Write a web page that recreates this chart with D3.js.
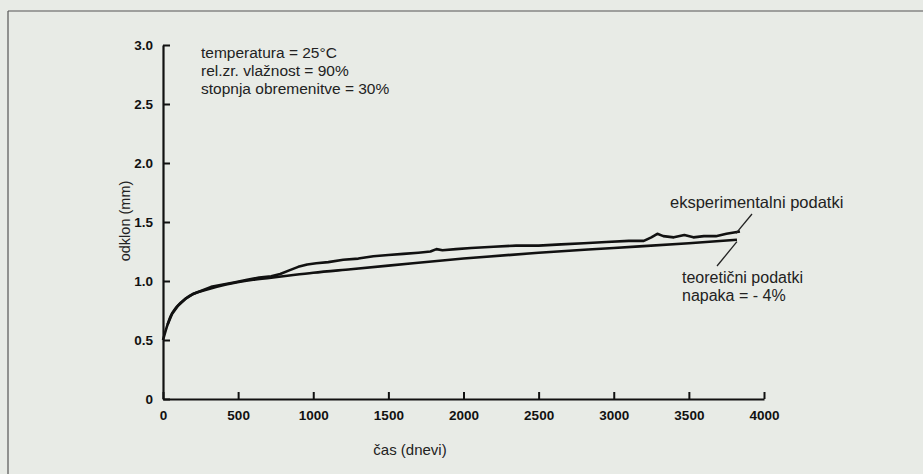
<!DOCTYPE html>
<html>
<head>
<meta charset="utf-8">
<script src="https://cdn.jsdelivr.net/npm/d3@7"></script>
<style>
	body { margin: 0; background: #e8ebe6; }
	svg { display: block; }
</style>
</head>
<body>
<svg id="chart" width="923" height="474"></svg>
<script>
// ****** Data
var xTicks = [0, 500, 1000, 1500, 2000, 2500, 3000, 3500, 4000];
var yTicks = [0, 0.5, 1.0, 1.5, 2.0, 2.5, 3.0];

// teoreticni podatki - smooth model curve [days, mm]
var theoryDays = [0, 25, 50, 90, 150, 200, 300, 420, 600, 800, 1000, 1250, 1500, 2000, 2500, 3000, 3500, 3820];
var theoryVals = [0.50, 0.61, 0.70, 0.78, 0.85, 0.89, 0.93, 0.97, 1.01, 1.04, 1.07, 1.10, 1.13, 1.19, 1.24, 1.28, 1.32, 1.35];

// eksperimentalni podatki - measured [days, mm]
var expDays = [30, 60, 100, 150, 200, 260, 320, 400, 480, 560, 640, 720, 780, 840, 900, 960, 1020, 1100,
	1200, 1300, 1400, 1500, 1600, 1700, 1780, 1820, 1860, 1950, 2050, 2200, 2350, 2500, 2650, 2800,
	2950, 3100, 3200, 3250, 3290, 3330, 3400, 3470, 3530, 3600, 3680, 3750, 3840];
var expVals = [0.63, 0.72, 0.79, 0.85, 0.89, 0.92, 0.95, 0.97, 0.99, 1.01, 1.03, 1.04, 1.06, 1.09, 1.12, 1.14, 1.15, 1.16,
	1.18, 1.19, 1.21, 1.22, 1.23, 1.24, 1.25, 1.27, 1.26, 1.27, 1.28, 1.29, 1.30, 1.30, 1.31, 1.32,
	1.33, 1.34, 1.34, 1.37, 1.40, 1.38, 1.37, 1.39, 1.37, 1.38, 1.38, 1.40, 1.42];

var conditions = ['temperatura = 25°C', 'rel.zr. vlažnost = 90%', 'stopnja obremenitve = 30%'];

// ****** Layout
var svg = d3.select('#chart');
var fontFam = '"Liberation Sans", Arial, sans-serif';

var x = d3.scaleLinear().domain([0, 4000]).range([163, 764]);
var y = d3.scaleLinear().domain([0, 3]).range([399, 45]);

// page frame from the scan
svg.append('line').attr('x1', 8).attr('x2', 923).attr('y1', 11).attr('y2', 11)
	.attr('stroke', '#555').attr('stroke-width', 1.2);
svg.append('line').attr('x1', 8).attr('x2', 8).attr('y1', 11).attr('y2', 474)
	.attr('stroke', '#555').attr('stroke-width', 1.2);

// ****** Axes
var xAxis = d3.axisBottom(x).tickValues(xTicks).tickSizeInner(-7).tickSizeOuter(0).tickPadding(11)
	.tickFormat(d3.format('d'));
var yAxis = d3.axisLeft(y).tickValues(yTicks).tickSizeInner(-7).tickSizeOuter(0).tickPadding(10)
	.tickFormat(function(d) { return d === 0 ? '0' : d.toFixed(1); });

var gx = svg.append('g').attr('transform', 'translate(0,' + y(0) + ')').call(xAxis);
var gy = svg.append('g').attr('transform', 'translate(' + x(0) + ',0)').call(yAxis);

[gx, gy].forEach(function(g) {
	g.select('.domain').attr('stroke', '#111').attr('stroke-width', 2.2);
	g.selectAll('.tick line').attr('stroke', '#111').attr('stroke-width', 2);
	g.selectAll('.tick text').attr('fill', '#111').style('font-family', fontFam)
		.style('font-size', '13.5px').style('font-weight', 'bold');
});

// axis titles
svg.append('text').attr('x', 410).attr('y', 455).attr('text-anchor', 'middle')
	.style('font-family', fontFam).style('font-size', '15px').attr('fill', '#222')
	.text('čas (dnevi)');
svg.append('text').attr('transform', 'translate(130,221) rotate(-90)').attr('text-anchor', 'middle')
	.style('font-family', fontFam).style('font-size', '14.5px').attr('fill', '#222')
	.text('odklon (mm)');

// ****** Curves
var line = d3.line().x(function(d) { return x(d[0]); }).y(function(d) { return y(d[1]); });

var theory = d3.zip(theoryDays, theoryVals);
var measured = d3.zip(expDays, expVals);

svg.append('path').datum(theory).attr('d', line.curve(d3.curveMonotoneX))
	.attr('fill', 'none').attr('stroke', '#111').attr('stroke-width', 2.6);
svg.append('path').datum(measured).attr('d', line.curve(d3.curveLinear))
	.attr('fill', 'none').attr('stroke', '#111').attr('stroke-width', 2.6)
	.attr('stroke-linejoin', 'round');

// ****** Annotations
svg.selectAll('text.cond').data(conditions).enter().append('text').attr('class', 'cond')
	.attr('x', 201).attr('y', function(d, i) { return 58 + i * 17.8; })
	.style('font-family', fontFam).style('font-size', '15.5px').attr('fill', '#222')
	.text(function(d) { return d; });

svg.append('text').attr('x', 670).attr('y', 208)
	.style('font-family', fontFam).style('font-size', '16.5px').attr('fill', '#222')
	.text('eksperimentalni podatki');
svg.append('line').attr('x1', 752).attr('y1', 214).attr('x2', x(3840) - 4).attr('y2', y(1.42) + 2)
	.attr('stroke', '#222').attr('stroke-width', 1.3);

svg.append('text').attr('x', 682).attr('y', 283)
	.style('font-family', fontFam).style('font-size', '16px').attr('fill', '#222')
	.text('teoretični podatki');
svg.append('text').attr('x', 682).attr('y', 301)
	.style('font-family', fontFam).style('font-size', '16px').attr('fill', '#222')
	.text('napaka = - 4%');
svg.append('line').attr('x1', 717).attr('y1', 266).attr('x2', x(3820)).attr('y2', y(1.35) + 2)
	.attr('stroke', '#222').attr('stroke-width', 1.3);
</script>
</body>
</html>
